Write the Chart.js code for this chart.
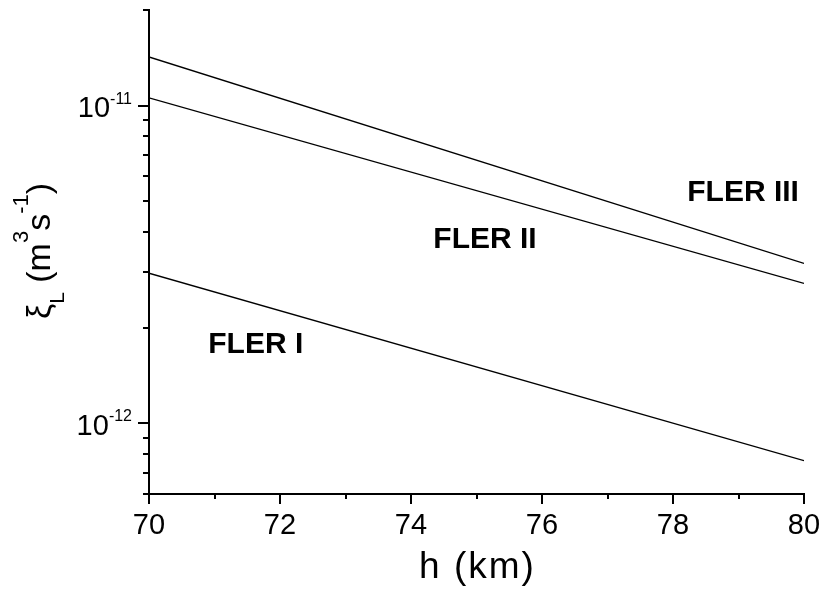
<!DOCTYPE html>
<html>
<head>
<meta charset="utf-8">
<script src="https://cdn.jsdelivr.net/npm/chart.js@4/dist/chart.umd.min.js"></script>
<style>
html,body{margin:0;padding:0;background:#fff;}
#wrap{width:822px;height:594px;position:relative;}
</style>
</head>
<body>
<div id="wrap"><canvas id="chart" width="822" height="594"></canvas></div>
<script>
/* ================= DATA ================= */
const heights = [70, 80];
const flerI   = [2.97e-12, 7.64e-13];
const flerII  = [1.058e-11, 2.76e-12];
const flerIII = [1.423e-11, 3.19e-12];

const xMajor = [70, 72, 74, 76, 78, 80];
const xMinor = [71, 73, 75, 77, 79];
const yMajor = [1e-12, 1e-11];
const yMajorExp = ["-12", "-11"];
const yMinor = [6e-13, 7e-13, 8e-13, 9e-13,
  2e-12, 3e-12, 4e-12, 5e-12, 6e-12, 7e-12, 8e-12, 9e-12, 2e-11];

// curve names and where they sit (data coords)
const curveNames = ["FLER I", "FLER II", "FLER III"];
const nameX = [71.63, 75.13, 79.07];
const nameY = [1.77e-12, 3.78e-12, 5.31e-12];

function pts(ys){
  return heights.map((h,i)=>({x:h, y:ys[i]}));
}

const FONT = "'Liberation Sans', Arial, sans-serif";

/* ================= AXIS DECOR ================= */
const decor = {
  id: "decor",
  afterDraw(chart){
    const c = chart.ctx;
    const xs = chart.scales.x, ys = chart.scales.y;
    const a = chart.chartArea;
    c.save();
    c.strokeStyle = "#000";
    c.fillStyle = "#000";
    c.lineWidth = 2;

    // x ticks (outward, down)
    c.beginPath();
    xMajor.forEach(v=>{
      let p = Math.round(xs.getPixelForValue(v));
      c.moveTo(p, a.bottom); c.lineTo(p, a.bottom + 10);
    });
    xMinor.forEach(v=>{
      let p = Math.round(xs.getPixelForValue(v));
      c.moveTo(p, a.bottom); c.lineTo(p, a.bottom + 5);
    });
    // y ticks (outward, left)
    yMajor.forEach(v=>{
      let p = Math.round(ys.getPixelForValue(v));
      c.moveTo(a.left, p); c.lineTo(a.left - 11, p);
    });
    yMinor.forEach(v=>{
      let p = Math.round(ys.getPixelForValue(v));
      c.moveTo(a.left, p); c.lineTo(a.left - 6, p);
    });
    c.stroke();

    // x tick labels
    c.font = "29px " + FONT;
    c.textAlign = "center";
    c.textBaseline = "alphabetic";
    xMajor.forEach(v=>{
      c.fillText(String(v), xs.getPixelForValue(v), a.bottom + 40);
    });

    // y tick labels: 10 with superscript exponent
    yMajor.forEach((v,i)=>{
      let p = ys.getPixelForValue(v);
      c.font = "16px " + FONT;
      let ew = c.measureText(yMajorExp[i]).width;
      let right = a.left - 17;
      c.textAlign = "right";
      c.fillText(yMajorExp[i], right, p - 2);
      c.font = "29px " + FONT;
      c.fillText("10", right - ew, p + 11.5);
    });

    // curve names
    c.font = "bold 30px " + FONT;
    c.textAlign = "center";
    c.textBaseline = "middle";
    curveNames.forEach((t,i)=>{
      c.fillText(t, xs.getPixelForValue(nameX[i]), ys.getPixelForValue(nameY[i]));
    });

    // x title
    c.textBaseline = "alphabetic";
    c.font = "37px " + FONT;
    c.letterSpacing = "2px";
    c.fillText("h (km)", (a.left + a.right) / 2 + 1, 578);
    c.letterSpacing = "0px";

    // y title, rotated, with sub/superscripts
    const parts = [
      ["\u03BE", 34, 0],
      ["L", 21, 14],
      [" (m", 34, 0],
      ["3", 22, -22],
      ["s", 34, 0],
      ["-1", 22, -22],
      [")", 34, 0]
    ];
    c.textAlign = "left";
    let total = 0;
    parts.forEach(p=>{ c.font = p[1] + "px " + FONT; total += c.measureText(p[0]).width; });
    c.translate(50, 251);
    c.rotate(-Math.PI / 2);
    let x = -total / 2;
    parts.forEach(p=>{
      c.font = p[1] + "px " + FONT;
      c.fillText(p[0], x, p[2]);
      x += c.measureText(p[0]).width;
    });
    c.restore();
  }
};

/* ================= CHART ================= */
const lineStyle = {borderColor:"#000", borderWidth:1.3, pointRadius:0, fill:false, tension:0};

new Chart(document.getElementById("chart"), {
  type: "line",
  data: {
    datasets: [
      Object.assign({label:"FLER I", data:pts(flerI)}, lineStyle),
      Object.assign({label:"FLER II", data:pts(flerII)}, lineStyle),
      Object.assign({label:"FLER III", data:pts(flerIII)}, lineStyle)
    ]
  },
  options: {
    responsive: false,
    animation: false,
    layout: {padding: {top:10, right:18, left:0, bottom:0}},
    plugins: {legend:{display:false}, tooltip:{enabled:false}},
    scales: {
      x: {
        type: "linear", min: 70, max: 80,
        grid: {display:false},
        ticks: {display:false},
        border: {display:true, color:"#000", width:2},
        afterFit(s){ s.height = 100; }
      },
      y: {
        type: "logarithmic", min: 6e-13, max: 2e-11,
        grid: {display:false},
        ticks: {display:false},
        border: {display:true, color:"#000", width:2},
        afterFit(s){ s.width = 149; }
      }
    }
  },
  plugins: [decor]
});
</script>
</body>
</html>
